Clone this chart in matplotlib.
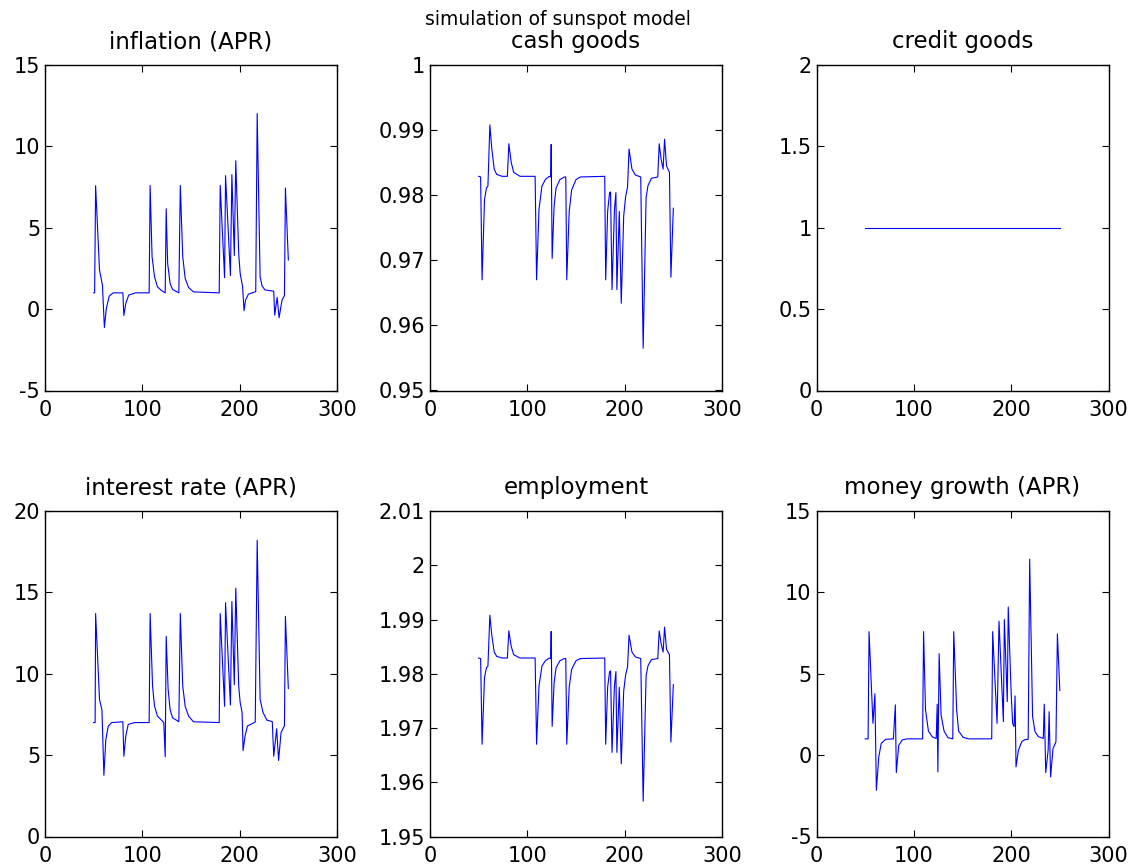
import matplotlib
matplotlib.use("Agg")
import matplotlib.pyplot as plt
from matplotlib.ticker import FuncFormatter, MultipleLocator

plt.rcParams['font.family'] = ['DejaVu Sans']
plt.rcParams['axes.unicode_minus'] = False

# simulated series (period, value)
infl_t = [50, 51, 52, 56, 59, 61, 63, 66, 70, 80, 81, 83, 86, 93, 107, 108, 110, 112.5, 115.5, 120,
          123.5, 124.5, 126, 128.5, 131, 137.5, 139, 141.5, 144, 147.5, 152.5, 179, 180, 184.5, 185.5,
          190.5, 192, 194.5, 196, 199, 200.5, 203, 204.5, 206, 209, 216.5, 218, 221, 223, 226,
          235, 236, 238.5, 240.5, 243.5, 246, 247, 250]
inflation = [1.0, 1.0, 7.58, 2.4, 1.48, -1.13, 0.04, 0.8, 1.0, 1.0, -0.39, 0.35, 0.86, 1.0, 1.0, 7.6, 3.23,
             1.99, 1.37, 1.13, 1.0, 6.17, 2.82, 1.58, 1.21, 1.0, 7.6, 3.23, 1.89, 1.33, 1.06, 1.0, 7.6,
             1.93, 8.2, 2.07, 8.26, 3.29, 9.12, 3.43, 2.2, 1.38, -0.1, 0.55, 0.92, 1.07, 12.02, 1.99,
             1.43, 1.18, 1.1, -0.37, 0.72, -0.53, 0.55, 0.84, 7.44, 3.02]

int_t = [50, 51.5, 52, 56, 58.5, 60.5, 62.5, 65, 68.5, 80, 81, 83, 85.5, 92, 107, 108, 110.5, 112.5,
         115.5, 119.5, 122, 123.5, 124.5, 126.5, 128.5, 131, 137.5, 139, 141.5, 144, 147.5, 152.5,
         179, 180, 184.5, 185.5, 190.5, 192, 194.5, 196, 199, 200.5, 202.5, 203.5, 205.5, 208, 216,
         218, 221, 224, 228, 233.5, 235, 238, 240, 242.5, 246, 247, 250]
interest = [7.0, 7.0, 13.7, 8.43, 7.77, 3.76, 5.96, 6.78, 7.0, 7.05, 4.93, 6.17, 6.89, 7.0, 7.0, 13.7,
            9.25, 8.02, 7.4, 7.16, 7.0, 4.9, 12.3, 9.05, 7.8, 7.3, 7.05, 13.7, 9.25, 8.0, 7.4, 7.05,
            7.0, 13.7, 8.0, 14.36, 8.08, 14.44, 9.32, 15.26, 9.26, 8.23, 7.62, 5.28, 6.17, 6.79, 7.03,
            18.2, 8.43, 7.62, 7.15, 7.06, 4.93, 6.62, 4.67, 6.38, 6.8, 13.53, 9.09]

cash_t = [50, 52, 53.5, 56, 58, 59.5, 61.5, 63.5, 66, 68.5, 74, 79.5, 81, 83.5, 86, 92.5, 108, 109.5,
          112, 115, 118.5, 122.5, 124, 124.5, 125.5, 127.5, 129.5, 133.5, 138, 139.5, 140.5, 143,
          145.5, 150, 154.5, 179.5, 180.5, 182.5, 184.5, 185.5, 187, 189.5, 191, 192, 194.5, 196.5,
          199, 201, 203, 204.5, 207.5, 211, 216.5, 219, 222, 224, 227.5, 234, 235.5, 237.5, 239.5,
          241, 243, 246, 247.5, 250]
cash = [0.9829, 0.9828, 0.967, 0.9793, 0.9811, 0.9814, 0.9908, 0.9871, 0.984, 0.9832, 0.9829, 0.9829,
        0.9879, 0.985, 0.9835, 0.9829, 0.9829, 0.967, 0.9778, 0.9814, 0.9824, 0.9829, 0.9828, 0.9878,
        0.9703, 0.9783, 0.9811, 0.9824, 0.9828, 0.9828, 0.967, 0.9775, 0.9808, 0.9824, 0.9828,
        0.9829, 0.967, 0.9775, 0.9804, 0.9805, 0.9655, 0.9778, 0.9804, 0.9655, 0.9775, 0.9634,
        0.9768, 0.9798, 0.9813, 0.9871, 0.984, 0.9831, 0.9828, 0.9565, 0.9796, 0.9815, 0.9826,
        0.9828, 0.9879, 0.9855, 0.984, 0.9886, 0.9845, 0.9835, 0.9674, 0.978]

employment = [1.9829, 1.9828, 1.967, 1.9793, 1.9811, 1.9814, 1.9908, 1.9871, 1.984, 1.9832, 1.9829,
              1.9829, 1.9879, 1.985, 1.9835, 1.9829, 1.9829, 1.967, 1.9778, 1.9814, 1.9824, 1.9829,
              1.9828, 1.9878, 1.9703, 1.9783, 1.9811, 1.9824, 1.9828, 1.9828, 1.967, 1.9775, 1.9808,
              1.9824, 1.9828, 1.9829, 1.967, 1.9775, 1.9804, 1.9805, 1.9655, 1.9778, 1.9804, 1.9655,
              1.9775, 1.9634, 1.9768, 1.9798, 1.9813, 1.9871, 1.984, 1.9831, 1.9828, 1.9565, 1.9796,
              1.9815, 1.9826, 1.9828, 1.9879, 1.9855, 1.984, 1.9886, 1.9845, 1.9835, 1.9674, 1.978]

credit_t = [50, 250]
credit = [1.0, 1.0]

money_t = [50, 53, 54, 58, 60, 61.5, 64, 66.5, 71, 79, 81, 82, 84.5, 88, 93, 109, 110, 112, 115, 119,
           123, 124, 124.7, 126, 128, 131, 135, 140, 141, 144, 146, 150.5, 156, 180, 181, 185.5, 187.5,
           192, 193, 196, 197, 200, 201.5, 203, 204, 205, 207.5, 211, 214.5, 217.5, 219, 222, 224.5,
           228, 233, 234, 235.5, 238, 239, 240.5, 243, 246, 247.5, 250]
money = [1.0, 1.0, 7.59, 1.95, 3.77, -2.16, -0.1, 0.72, 0.97, 1.0, 3.09, -1.07, 0.6, 0.93, 1.0, 1.0,
         7.59, 2.78, 1.48, 1.12, 1.02, 3.13, -1.03, 6.23, 2.47, 1.49, 1.07, 1.0, 7.59, 2.78, 1.48, 1.1,
         1.0, 1.0, 7.59, 1.95, 8.23, 2.06, 8.33, 3.29, 9.1, 3.8, 1.95, 1.75, 3.64, -0.72, 0.31, 0.84,
         0.96, 0.97, 12.04, 2.37, 1.44, 1.13, 1.03, 3.13, -1.07, 0.31, 2.67, -1.34, 0.4, 0.82, 7.45, 3.97]

panels = [
    ("inflation (APR)", infl_t, inflation, (-5, 15), 5),
    ("cash goods", cash_t, cash, (0.95, 1.0), 0.01),
    ("credit goods", credit_t, credit, (0, 2), 0.5),
    ("interest rate (APR)", int_t, interest, (0, 20), 5),
    ("employment", cash_t, employment, (1.95, 2.01), 0.01),
    ("money growth (APR)", money_t, money, (-5, 15), 5),
]

W, H = 1133, 865
lefts = [45, 430, 816.5]
tops = [65, 511]
aw, ah = 292, 325.5

fig = plt.figure(figsize=(W / 100, H / 100), dpi=100)
fmt = FuncFormatter(lambda v, p: ("%.4f" % v).rstrip("0").rstrip("."))

for i, (title, t, y, ylim, step) in enumerate(panels):
    r, c = divmod(i, 3)
    ax = fig.add_axes([lefts[c] / W, 1 - (tops[r] + ah) / H, aw / W, ah / H])
    ax.plot(t, y, color="#0000ff", lw=0.8)
    ax.set_xlim(0, 300)
    ax.set_ylim(*ylim)
    ax.xaxis.set_major_locator(MultipleLocator(100))
    ax.yaxis.set_major_locator(MultipleLocator(step))
    ax.yaxis.set_major_formatter(fmt)
    ax.tick_params(direction="in", top=True, right=True, length=5, width=0.8, labelsize=15)
    ax.tick_params(axis="y", pad=3.5)
    ax.tick_params(axis="x", pad=6.5)
    for s in ax.spines.values():
        s.set_linewidth(1.0)
    ax.set_title(title, fontsize=16.5, pad=12)

fig.text(558 / W, 1 - 25 / H, "simulation of sunspot model", ha="center", va="baseline", fontsize=13.5)

fig.savefig("out.png", dpi=100)
